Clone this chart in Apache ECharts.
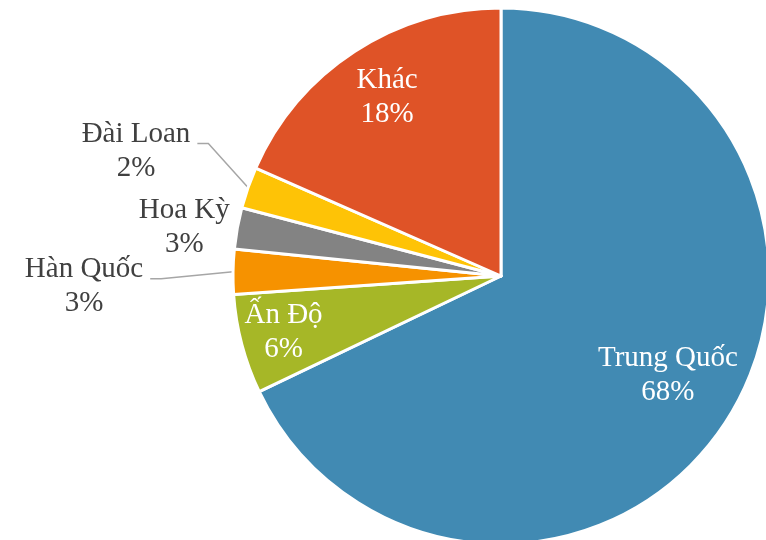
<!DOCTYPE html>
<html>
<head>
<meta charset="utf-8">
<title>Pie</title>
<script src="https://cdn.jsdelivr.net/npm/echarts@6/dist/echarts.min.js"></script>
<style>
    html, body { margin: 0; padding: 0; background: #fff; }
    #myChart { width: 766px; height: 540px; }
</style>
</head>
<body>
<div id="myChart"></div>
<script>
// du lieu doc tu hinh
var names = ['Trung Quốc', 'Ấn Độ', 'Hàn Quốc', 'Hoa Kỳ', 'Đài Loan', 'Khác']
var shares = [67.9, 6.0, 2.7, 2.5, 2.5, 18.4]
var pctLabels = ['68%', '6%', '3%', '3%', '2%', '18%']
var colors = ['#418ab3', '#a6b727', '#f69200', '#838383', '#fec306', '#df5327']

// vi tri nhan (so voi diem neo cua thu vien)
var placement = [
    { inside: true, shift: [51, 26] },
    { inside: true, shift: [-85, 21] },
    { inside: false, line: true, shift: [-149, 15] },
    { inside: false, line: false, shift: [-53, -1] },
    { inside: false, line: true, shift: [-112, -36] },
    { inside: true, shift: [-39, -64] }
]

var myChart = echarts.init(document.getElementById('myChart'))

var data = names.map(function (n, i) {
    var p = placement[i]
    return {
        name: n,
        value: shares[i],
        itemStyle: { color: colors[i] },
        label: {
            position: p.inside ? 'inside' : 'outside',
            color: p.inside ? '#ffffff' : '#404040'
        },
        labelLine: { show: !p.inside, lineStyle: { opacity: p.line ? 1 : 0 } }
    }
})

var option = {
    animation: false,
    series: [{
        type: 'pie',
        center: [501, 276],
        radius: 268,
        startAngle: 90,
        clockwise: true,
        avoidLabelOverlap: false,
        itemStyle: { borderColor: '#ffffff', borderWidth: 3 },
        label: {
            fontFamily: 'Liberation Serif',
            fontSize: 29,
            lineHeight: 34,
            formatter: function (p) {
                return p.name + '\n' + pctLabels[p.dataIndex]
            }
        },
        labelLine: {
            length: 10,
            length2: 10,
            lineStyle: { color: '#a6a6a6', width: 1.5 }
        },
        labelLayout: function (params) {
            var place = placement[params.dataIndex]
            if (place.inside) {
                return { dx: place.shift[0], dy: place.shift[1] }
            }
            var pts = params.labelLinePoints
            var p0 = pts ? [pts[0][0], pts[0][1]] : [params.labelRect.x + params.labelRect.width, params.labelRect.y + params.labelRect.height / 2]
            var x = p0[0] + place.shift[0]
            var y = p0[1] + place.shift[1]
            var res = { x: x, y: y, align: 'center', verticalAlign: 'middle' }
            var ex = x + params.labelRect.width / 2 + 7
            var ey = y - 8
            res.labelLinePoints = [p0, [ex + 11, ey], [ex, ey]]
            return res
        },
        data: data
    }]
}

myChart.setOption(option)
window.onresize = myChart.resize
</script>
</body>
</html>
